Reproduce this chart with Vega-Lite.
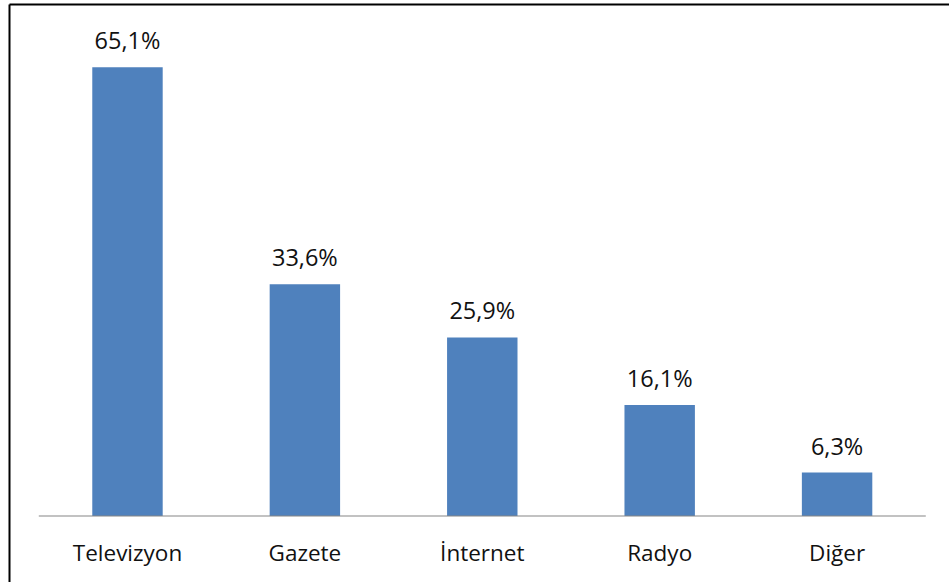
{
  "$schema": "https://vega.github.io/schema/vega-lite/v6.json",
  "width": 940,
  "height": 578,
  "autosize": {"type": "none"},
  "padding": {"left": 9, "top": 4, "right": 0, "bottom": 0},
  "background": "white",
  "config": {
    "view": {"stroke": null},
    "locale": {"number": {"decimal": ",", "thousands": ".", "grouping": [3], "currency": ["", " TL"]}}
  },
  "data": {
    "values": [
      {"kategori": "Televizyon", "oran": 0.651},
      {"kategori": "Gazete", "oran": 0.336},
      {"kategori": "İnternet", "oran": 0.259},
      {"kategori": "Radyo", "oran": 0.161},
      {"kategori": "Diğer", "oran": 0.063}
    ]
  },
  "layer": [
    {
      "mark": {"type": "bar", "color": "#4F81BD", "width": {"band": 0.397}},
      "encoding": {
        "x": {
          "field": "kategori", "type": "nominal", "sort": null,
          "scale": {"domain": ["Televizyon", "Gazete", "İnternet", "Radyo", "Diğer"], "paddingInner": 0, "paddingOuter": 0.1494, "align": 0.562},
          "axis": {"orient": "bottom", "offset": -66, "domain": false, "ticks": false, "tickSize": 0, "labelPadding": 44, "labelBaseline": "alphabetic", "labelFont": "Open Sans", "labelFontSize": 22.5, "labelColor": "#111111", "labelAngle": 0, "title": null, "grid": false}
        },
        "y": {
          "field": "oran", "type": "quantitative",
          "scale": {"domain": [-0.0957, 0.7426], "nice": false, "zero": false},
          "axis": {"orient": "left", "domain": true, "domainColor": "black", "domainWidth": 2, "labels": false, "ticks": false, "grid": false, "title": null}
        }
      }
    },
    {
      "mark": {"type": "text", "baseline": "alphabetic", "dy": -18, "font": "Open Sans", "fontSize": 23.5, "color": "#111111"},
      "encoding": {
        "x": {
          "field": "kategori", "type": "nominal", "sort": null,
          "axis": {"orient": "top", "domain": true, "domainColor": "black", "domainWidth": 2, "labels": false, "ticks": false, "grid": false, "title": null}
        },
        "y": {"field": "oran", "type": "quantitative"},
        "text": {"field": "oran", "type": "quantitative", "format": ".1%"}
      }
    },
    {
      "data": {"values": [{"bas": "Televizyon", "son": "Diğer", "sifir": 0}]},
      "mark": {"type": "rule", "color": "#868686", "strokeWidth": 1.2},
      "encoding": {
        "x": {"field": "bas", "type": "nominal", "bandPosition": 0, "axis": null},
        "x2": {"field": "son", "bandPosition": 1},
        "y": {"field": "sifir", "type": "quantitative"}
      }
    }
  ],
  "resolve": {"axis": {"x": "independent"}}
}
